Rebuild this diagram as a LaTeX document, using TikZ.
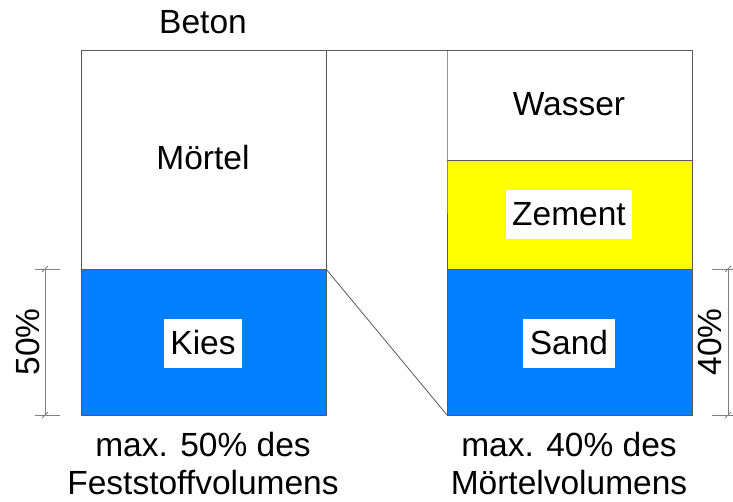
\documentclass[tikz,border=0pt]{standalone}
\usepackage{fontspec}
\setmainfont{Liberation Sans}
\usetikzlibrary{calc}
\definecolor{kblue}{RGB}{0,128,255}
\definecolor{kyellow}{RGB}{255,255,0}
\definecolor{edge}{RGB}{90,90,90}
\definecolor{dimc}{RGB}{128,128,128}
\begin{document}
\begin{tikzpicture}[x=1pt,y=-1pt,
  lbl/.style={font=\fontsize{33.5}{38}\selectfont, inner sep=0pt},
  wbox/.style={lbl, fill=white, minimum height=49pt, inner xsep=6.5pt},
  outl/.style={draw=edge, line width=1pt},
  dimline/.style={draw=dimc, line width=0.8pt}]
\useasboundingbox (0,0) rectangle (733,501);
% coordinates
\coordinate (LTL) at (81,50);
\coordinate (LTR) at (326,50);
\coordinate (LM) at (326,269);
\coordinate (LML) at (81,269);
\coordinate (LBR) at (326,415);
\coordinate (LBL) at (81,415);
\coordinate (RTL) at (447,50);
\coordinate (RTR) at (692,50);
\coordinate (RY) at (447,160);
\coordinate (RYR) at (692,160);
\coordinate (RM) at (447,269);
\coordinate (RMR) at (692,269);
\coordinate (RBL) at (447,415);
\coordinate (RBR) at (692,415);
% fills
\fill[kblue] (LML) rectangle (LBR);
\fill[kyellow] (RY) rectangle (RMR);
\fill[kblue] (RM) rectangle (RBR);
% outlines
\draw[outl] (LTL) -- (RTR) -- (RBR) -- (RBL) -- (RM) -- (RMR);
\draw[outl] (RY) -- (RYR);
\draw[outl] (RTL) -- (RY) -- (RM);
\draw[outl] (LTL) -- (LBL) -- (LBR) -- (LTR);
\draw[outl] (LML) -- (LM);
\draw[edge, line width=0.8pt] (LM) -- (RBL);
% labels
\node[lbl] (beton) at (203,22) {Beton};
\node[lbl] (moertel) at (203,158) {Mörtel};
\node[wbox] (kies) at (203,343) {Kies};
\node[lbl] (wasser) at (569,104) {Wasser};
\node[wbox] (zement) at (569,214.5) {Zement};
\node[wbox] (sand) at (569,343) {Sand};
\node[lbl, align=center] (lcap) at (203,464) {max. 50\% des\\Feststoffvolumens};
\node[lbl, align=center] (rcap) at (569,464) {max. 40\% des\\Mörtelvolumens};
% dimensions
\coordinate (d1t) at (45,269);
\coordinate (d1b) at (45,415);
\draw[dimline] (35,269) -- (60,269);
\draw[dimline] (35,415) -- (60,415);
\draw[dimline] (d1t) -- (d1b);
\draw[dimline] ($(d1t)+(-3,3)$) -- ($(d1t)+(3,-3)$);
\draw[dimline] ($(d1b)+(-3,3)$) -- ($(d1b)+(3,-3)$);
\node[lbl, rotate=90] (p50) at (28,342) {50\%};
\coordinate (d2t) at (728,269);
\coordinate (d2b) at (728,415);
\draw[dimline] (712,269) -- (733,269);
\draw[dimline] (712,415) -- (733,415);
\draw[dimline] (d2t) -- (d2b);
\draw[dimline] ($(d2t)+(-3,3)$) -- ($(d2t)+(3,-3)$);
\draw[dimline] ($(d2b)+(-3,3)$) -- ($(d2b)+(3,-3)$);
\node[lbl, rotate=90] (p40) at (710,342) {40\%};
\end{tikzpicture}
\end{document}
